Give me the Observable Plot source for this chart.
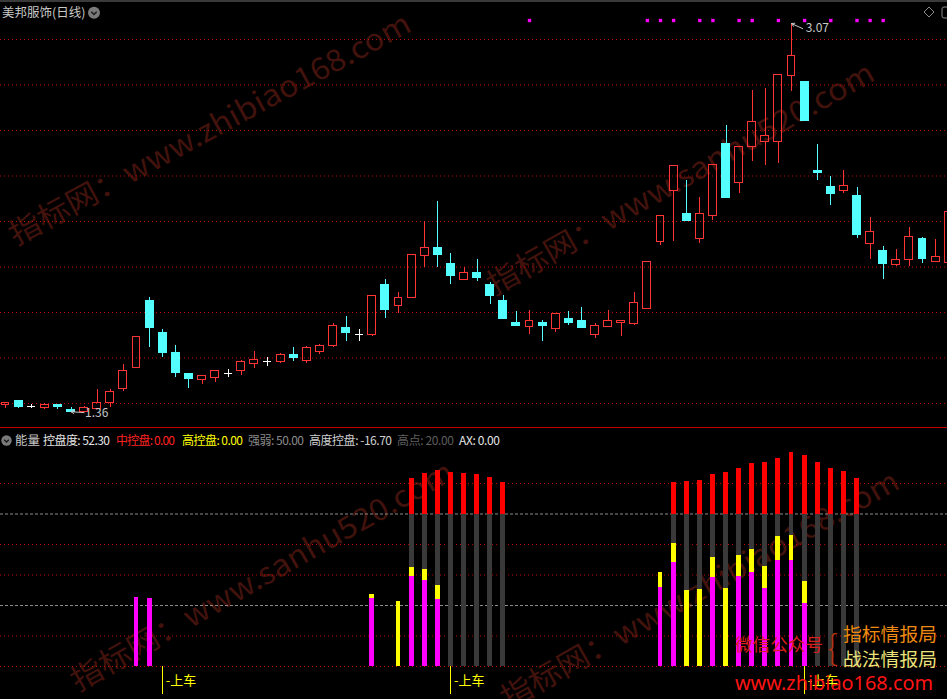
<!DOCTYPE html>
<html><head><meta charset="utf-8">
<script src="https://cdn.jsdelivr.net/npm/d3@7"></script>
<script src="https://cdn.jsdelivr.net/npm/@observablehq/plot@0.6"></script>
<style>
body{margin:0;background:#000;}
#wrap{position:relative;width:947px;height:699px;background:#000;overflow:hidden;font-family:"Noto Sans CJK SC","Noto Sans",sans-serif;}
#wrap svg{position:absolute;left:0;}
</style></head><body><div id="wrap"></div>
<script>
// ---------- data ----------
const stockTitle = "美邦服饰(日线)";
const open  = [1.395,1.412,1.385,1.379,1.395,1.373,1.361,1.378,1.402,1.464,1.558,1.851,1.710,1.623,1.529,1.503,1.512,1.532,1.543,1.573,1.583,1.582,1.614,1.589,1.628,1.652,1.732,1.702,1.699,1.921,1.830,1.863,2.050,2.083,2.013,1.942,1.974,1.921,1.851,1.754,1.738,1.754,1.729,1.772,1.763,1.699,1.738,1.753,1.751,1.817,2.108,2.332,2.232,2.121,2.222,2.539,2.371,2.529,2.551,2.551,2.841,2.811,2.421,2.351,2.332,2.311,2.100,2.070,2.010,2.029,2.121,2.021,2.017];
const high  = [1.404,1.412,1.395,1.399,1.395,1.382,1.387,1.460,1.460,1.570,1.693,1.864,1.724,1.653,1.529,1.521,1.543,1.551,1.588,1.627,1.601,1.618,1.645,1.650,1.658,1.750,1.781,1.724,1.871,1.943,1.886,2.051,2.199,2.289,2.061,1.996,2.031,1.934,1.873,1.803,1.807,1.763,1.794,1.803,1.820,1.750,1.807,1.763,1.886,2.022,2.224,2.443,2.382,2.307,2.450,2.623,2.529,2.776,2.785,2.842,3.070,2.811,2.539,2.399,2.425,2.351,2.219,2.092,2.079,2.174,2.130,2.121,2.241];
const low   = [1.377,1.376,1.377,1.373,1.373,1.360,1.361,1.377,1.383,1.453,1.553,1.646,1.602,1.514,1.466,1.484,1.494,1.514,1.523,1.554,1.563,1.578,1.585,1.576,1.615,1.648,1.671,1.671,1.694,1.773,1.795,1.863,2.000,2.000,1.921,1.942,1.935,1.835,1.773,1.742,1.703,1.672,1.712,1.742,1.734,1.685,1.734,1.694,1.742,1.814,2.095,2.111,2.203,2.102,2.203,2.304,2.321,2.462,2.444,2.453,2.773,2.642,2.382,2.272,2.321,2.124,2.034,1.946,2.001,2.001,2.016,2.021,2.017];
const close = [1.404,1.383,1.385,1.395,1.383,1.364,1.382,1.402,1.452,1.544,1.693,1.734,1.624,1.532,1.506,1.521,1.543,1.532,1.583,1.592,1.583,1.614,1.602,1.645,1.653,1.741,1.712,1.702,1.871,1.813,1.864,2.051,2.082,2.054,1.962,1.974,1.953,1.874,1.773,1.742,1.762,1.742,1.794,1.756,1.734,1.741,1.763,1.763,1.842,2.022,2.224,2.443,2.203,2.232,2.450,2.304,2.529,2.639,2.578,2.842,2.929,2.642,2.414,2.321,2.358,2.140,2.152,2.014,2.029,2.130,2.034,2.042,2.241];
const priceGrid = [1.4,1.6,1.8,2.0,2.2,2.4,2.6,2.8,3.0];
const signalIdx = [40,49,50,51,53,54,56,57,59,61,63,65,66,67];

// energy panel
const barIdx   = [10,11,28,30,31,32,33,34,35,36,37,38,50,51,52,53,54,55,56,57,58,59,60,61,62,63,64,65];
const midCtrl  = [22.6,22.3,22.3,0,29.5,28.2,22.0,0,0,0,0,0,25.9,34.1,0,0,29.2,0,29.5,30.8,25.6,34.8,34.8,20.7,0,0,0,0];
const highCtrl = [0,0,23.6,21.3,32.5,31.8,26.6,0,0,0,0,0,30.8,40.3,24.9,25.2,35.7,25.6,36.4,38.4,32.8,42.6,43.0,27.9,0,0,0,0];
const strong   = [0,0,0,0,61.6,63.3,64.3,63.6,63.3,63.0,62.0,60.3,0,60.3,60.7,61.0,63.0,63.6,64.9,66.6,66.9,68.2,70.2,69.2,66.9,64.9,63.9,61.6];
const strongBase = 50;
const energyRedGrid = [0,10,30,40,60];
const energyGrayGrid = [20,50];
const buyIdx = [12,34,61];
const buyLabel = "-上车";
const legendLabels = ["控盘度","中控盘","高控盘","强弱","高度控盘","高点","AX"];
const legendValues = ["52.30","0.00","0.00","50.00","-16.70","20.00","0.00"];
const legendColors = ["#e6e6e6","#ff2020","#ffff00","#8a8a8a","#cfcfcf","#5e5e5e","#e6e6e6"];

// ---------- build ----------
const wrap = document.getElementById("wrap");
const font = '"Noto Sans CJK SC","Noto Sans",sans-serif';
const xDomain = [-5/13.1, 942/13.1];

// watermark layer (behind)
const bg = d3.select(wrap).append("svg").attr("width",947).attr("height",699).style("top","0px");
const wm = [
  {t:"指标网：www.zhibiao168.com", x:16, y:246, a:-28.5, L:452},
  {t:"指标网：www.sanhu520.com", x:494, y:296, a:-29.5, L:440},
  {t:"指标网：www.sanhu520.com", x:78, y:692, a:-29.5, L:434},
  {t:"指标网：www.zhibiao168.com", x:508, y:710, a:-29.5, L:452}
];
bg.selectAll("text").data(wm).join("text")
  .attr("transform", d => `translate(${d.x},${d.y}) rotate(${d.a})`)
  .attr("textLength", d => d.L).attr("lengthAdjust","spacingAndGlyphs")
  .attr("font-size", 30).attr("font-family", font).attr("fill", "#42120d")
  .text(d => d.t);

const candles = open.map((o, i) => ({i, open:o, high:high[i], low:low[i], close:close[i]}));
const colorOf = d => d.close > d.open ? "#ff3434" : d.close < d.open ? "#54ffff" : "#ffffff";
const W = 0.3;
const maxD = candles.reduce((a, b) => b.high > a.high ? b : a);
const minD = candles.reduce((a, b) => b.low < a.low ? b : a);

const upper = Plot.plot({
  width: 947, height: 427, marginTop: 39, marginBottom: 24, marginLeft: 0, marginRight: 0,
  x: {type: "linear", domain: xDomain, axis: null},
  y: {domain: [1.4, 3.0], axis: null},
  style: {background: "transparent", overflow: "visible", fontFamily: font},
  marks: [
    Plot.ruleY(priceGrid, {stroke: "#c00000", strokeDasharray: "1,3"}),
    Plot.ruleX(candles, {x: "i", y1: d => Math.max(d.open, d.close), y2: "high", stroke: colorOf, shapeRendering: "crispEdges"}),
    Plot.ruleX(candles, {x: "i", y1: "low", y2: d => Math.min(d.open, d.close), stroke: colorOf, shapeRendering: "crispEdges"}),
    Plot.rect(candles.filter(d => d.close > d.open), {x1: d => d.i - W, x2: d => d.i + W, y1: "open", y2: "close", fill: "none", stroke: "#ff3434", shapeRendering: "crispEdges"}),
    Plot.rect(candles.filter(d => d.close < d.open), {x1: d => d.i - W, x2: d => d.i + W, y1: "open", y2: "close", fill: "#54ffff", stroke: "#54ffff", shapeRendering: "crispEdges"}),
    Plot.ruleY(candles.filter(d => d.close === d.open), {y: "close", x1: d => d.i - W, x2: d => d.i + W, stroke: "#ffffff", shapeRendering: "crispEdges"}),
    Plot.dot(signalIdx, {x: d => d, frameAnchor: "top", dy: -19, symbol: "square", r: 1.9, fill: "#ff00ff", stroke: null}),
    Plot.arrow([maxD], {x1: d => d.i + 0.85, y1: d => d.high - 0.022, x2: "i", y2: "high", stroke: "#c8c8c8", headLength: 5, strokeWidth: 1}),
    Plot.text([maxD], {x: d => d.i + 0.85, y: d => d.high - 0.022, text: d => d.high.toFixed(2), textAnchor: "start", dx: 3, fill: "#c8c8c8", fontSize: 12}),
    Plot.arrow([minD], {x1: d => d.i + 1.0, y1: "low", x2: "i", y2: d => d.low + 0.004, stroke: "#c8c8c8", headLength: 5, strokeWidth: 1}),
    Plot.text([minD], {x: d => d.i + 1.0, y: "low", text: d => d.low.toFixed(2), textAnchor: "start", dx: 1, dy: 1, fill: "#c8c8c8", fontSize: 12})
  ]
});
upper.style.top = "0px";
wrap.appendChild(upper);

const bars = barIdx.map((i, k) => ({i, mid: midCtrl[k], hi: highCtrl[k], strong: strong[k]}));
const BW = 0.19;
const lower = Plot.plot({
  width: 947, height: 272, marginTop: 56, marginBottom: 33, marginLeft: 0, marginRight: 0,
  x: {type: "linear", domain: xDomain, axis: null},
  y: {domain: [0, 60], axis: null},
  style: {background: "transparent", overflow: "visible", fontFamily: font},
  marks: [
    Plot.ruleY(energyRedGrid, {stroke: "#c00000", strokeDasharray: "1,3"}),
    Plot.ruleY(energyGrayGrid, {stroke: "#8c8c8c", strokeDasharray: "3,2"}),
    Plot.rect(bars.filter(d => d.strong > 0), {x1: d => d.i - BW, x2: d => d.i + BW, y1: 0, y2: strongBase, fill: "#393939", shapeRendering: "crispEdges"}),
    Plot.rect(bars.filter(d => d.strong > 0), {x1: d => d.i - BW, x2: d => d.i + BW, y1: strongBase, y2: "strong", fill: "#ff0000", shapeRendering: "crispEdges"}),
    Plot.rect(bars.filter(d => d.mid > 0), {x1: d => d.i - BW, x2: d => d.i + BW, y1: 0, y2: "mid", fill: "#ff00ff", shapeRendering: "crispEdges"}),
    Plot.rect(bars.filter(d => d.hi > 0), {x1: d => d.i - BW, x2: d => d.i + BW, y1: "mid", y2: "hi", fill: "#ffff00", shapeRendering: "crispEdges"}),
    Plot.ruleX(buyIdx, {x: d => d, y1: 0, y2: -9.3, stroke: "#ffff00", shapeRendering: "crispEdges"}),
    Plot.text(buyIdx, {x: d => d, y: -4.6, text: () => buyLabel, textAnchor: "start", dx: 3, fill: "#ffff00", fontSize: 13})
  ]
});
lower.style.top = "427px";
wrap.appendChild(lower);

// foreground overlay: headers and notes
const fg = d3.select(wrap).append("svg").attr("width",947).attr("height",699).style("top","0px")
  .attr("font-family", font);
fg.append("rect").attr("x",0).attr("y",0).attr("width",947).attr("height",2).attr("fill","#3a3a3a");
fg.append("rect").attr("x",0).attr("y",427).attr("width",947).attr("height",1).attr("fill","#c80000");
function chevronIcon(cx, cy, r){
  fg.append("circle").attr("cx",cx).attr("cy",cy).attr("r",r).attr("fill","#7a7a7a");
  fg.append("path").attr("d",`M${cx-r*0.45},${cy-r*0.15} L${cx},${cy+r*0.3} L${cx+r*0.45},${cy-r*0.15}`)
    .attr("fill","none").attr("stroke","#1a1a1a").attr("stroke-width",1.4);
}
chevronIcon(94, 12.7, 6);
chevronIcon(6.5, 440.5, 5.2);
fg.append("text").attr("x",2).attr("y",17).attr("font-size",12.5).attr("fill","#c8c8c8").text(stockTitle);
fg.append("path").attr("d","M929,7 L934,12 L929,17 L924,12 Z").attr("fill","none").attr("stroke","#8a8a8a");
fg.append("rect").attr("x",942).attr("y",7).attr("width",10).attr("height",11).attr("rx",2).attr("fill","none").attr("stroke","#8a8a8a");

fg.append("text").attr("x",15).attr("y",445).attr("font-size",12.5).attr("fill","#c8c8c8").text("能量");
const legendLeft = [43,116,182,248,309,397,459];
const legendWidth = [67,59,61,56,83,57,41];
legendLabels.forEach((lab, k) => {
  fg.append("text").attr("x", legendLeft[k]).attr("y", 445).attr("font-size", 12).attr("fill", legendColors[k])
    .attr("textLength", legendWidth[k]).attr("lengthAdjust", "spacing")
    .text(`${lab}: ${legendValues[k]}`);
});

// bottom-right notes
fg.append("text").attr("x",735).attr("y",651).attr("font-size",17.5).attr("fill","#d81e1e")
  .attr("textLength",88).attr("lengthAdjust","spacingAndGlyphs").text("微信公众号");
fg.append("text").attr("x",827).attr("y",660).attr("font-size",34).attr("font-weight",200).attr("fill","#b03414")
  .attr("textLength",11).attr("lengthAdjust","spacingAndGlyphs").text("{");
fg.append("text").attr("x",843).attr("y",641).attr("font-size",18.5).attr("fill","#ee8a10")
  .attr("textLength",94).attr("lengthAdjust","spacingAndGlyphs").text("指标情报局");
fg.append("text").attr("x",843).attr("y",666).attr("font-size",18.5).attr("fill","#ece27a")
  .attr("textLength",94).attr("lengthAdjust","spacingAndGlyphs").text("战法情报局");
fg.append("text").attr("x",735).attr("y",690).attr("font-size",20).attr("fill","#ff1414")
  .attr("font-family",'"Noto Sans",sans-serif')
  .attr("textLength",198).attr("lengthAdjust","spacingAndGlyphs").text("www.zhibiao168.com");
</script>
</body></html>
